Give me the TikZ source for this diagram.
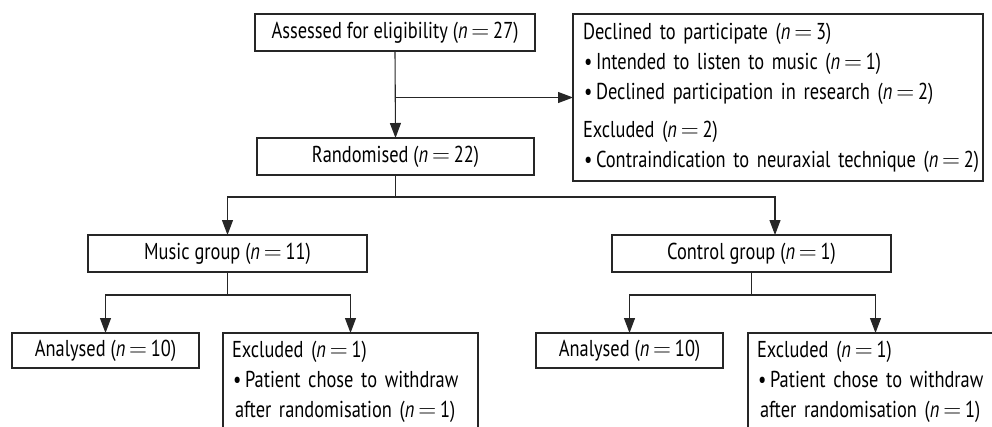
\documentclass[tikz,border=0pt]{standalone}
\usepackage{fontspec}
\setmainfont[FakeStretch=0.8]{PT Sans}
\usetikzlibrary{arrows.meta}
\newcommand{\ncount}[1]{(\textit{n}\,$=$\,#1)}
\newcommand{\bul}{\hspace*{1pt}\makebox[12pt][l]{\textbullet}}
\newcommand{\hang}{\hspace*{3pt}}
\hbadness=10000 \hfuzz=100pt
\begin{document}
\begin{tikzpicture}[x=1pt,y=-1pt,
  box/.style={draw=black!85, line width=1.1pt, inner sep=0pt, outer sep=0pt,
    font=\fontsize{23}{30}\selectfont, text height=16pt, text depth=4pt},
  listbox/.style={draw=black!85, line width=1.1pt, outer sep=0pt, inner xsep=9pt, inner ysep=8pt,
    align=left, font=\fontsize{23}{30}\selectfont, anchor=north west},
  conn/.style={draw=black!85, line width=1.1pt},
  arr/.style={conn, -{Triangle[length=15pt,width=11pt]}}]
\useasboundingbox (0,0) rectangle (992,426);
\clip (0,0) rectangle (992,426);
\node[box, minimum width=280pt, minimum height=37pt] (assess) at (395,32.5) {Assessed for eligibility \ncount{27}};
\node[box, minimum width=277pt, minimum height=37pt] (rand) at (395.5,156.5) {Randomised \ncount{22}};
\node[listbox, text width=390pt, inner xsep=10pt, minimum height=167pt] (decl) at (573,14) {\mbox{Declined to participate \ncount{3}}\\
\mbox{\bul Intended to listen to music \ncount{1}}\\
\mbox{\bul Declined participation in research \ncount{2}}\\[8pt]
\mbox{Excluded \ncount{2}}\\
\mbox{\bul Contraindication to neuraxial technique \ncount{2}}};
\node[box, minimum width=279pt, minimum height=37pt] (music) at (227.5,253.5) {Music group \ncount{11}};
\node[box, minimum width=279pt, minimum height=37pt] (control) at (751.5,253.5) {Control group \ncount{1}};
\node[box, minimum width=187pt, minimum height=35pt] (an1) at (105.5,350.5) {Analysed \ncount{10}};
\node[box, minimum width=187pt, minimum height=35pt] (an2) at (629.5,350.5) {Analysed \ncount{10}};
\node[listbox, text width=237pt] (ex1) at (223,333) {\mbox{Excluded \ncount{1}}\\
\mbox{\bul Patient chose to withdraw}\\
\mbox{\hang after randomisation \ncount{1}}};
\node[listbox, text width=237pt] (ex2) at (748,333) {\mbox{Excluded \ncount{1}}\\
\mbox{\bul Patient chose to withdraw}\\
\mbox{\hang after randomisation \ncount{1}}};
% connectors
\draw[arr] (assess.south) -- (rand.north);
\draw[arr] (assess.south |- decl.west) -- (decl.west);
\path (rand.south) ++(0,22) coordinate (rb);
\draw[conn] (rand.south) -- (rb);
\draw[arr] (rb) -| (music.north);
\draw[arr] (rb) -| ([xshift=23.5pt]control.north);
\path (music.south) ++(0,23) coordinate (mb);
\draw[conn] (music.south) -- (mb);
\draw[arr] (mb) -| (an1.north);
\draw[arr] (mb) -| (ex1.north);
\path (control.south) ++(0,23) coordinate (cb);
\draw[conn] (control.south) -- (cb);
\draw[arr] (cb) -| (an2.north);
\draw[arr] (cb) -| (ex2.north);
\end{tikzpicture}
\end{document}
